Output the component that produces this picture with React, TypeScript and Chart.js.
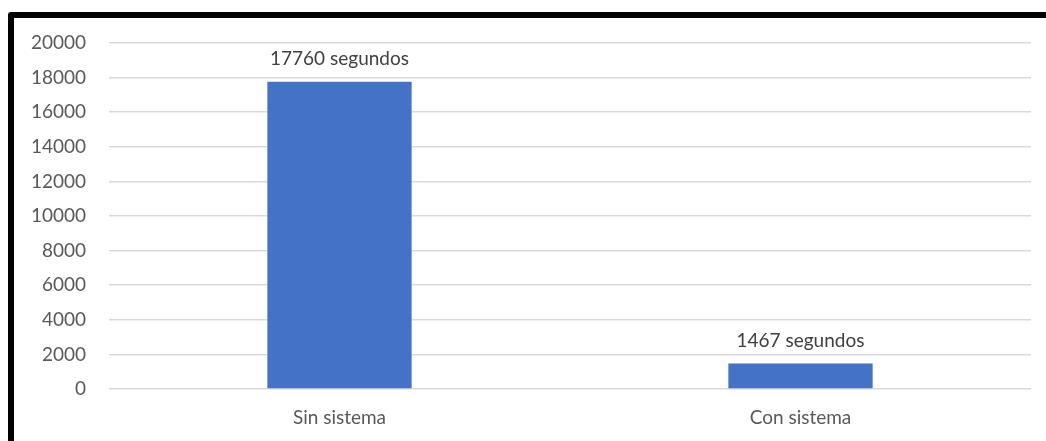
import React, { useEffect, useRef } from "react";
import { Chart, registerables } from "chart.js";

Chart.register(...registerables);

const categories = ["Sin sistema", "Con sistema"];
const values = [17760, 1467];
const valueLabels = ["17760 segundos", "1467 segundos"];
const yMax = 20000;
const yStep = 2000;

const FONT = "Lato, 'Noto Sans', sans-serif";
const TEXT = "#595959";

const dataLabelPlugin = {
  id: "dataLabels",
  afterDatasetsDraw(chart: any) {
    const ctx = chart.ctx;
    const meta = chart.getDatasetMeta(0);
    ctx.save();
    ctx.font = `19px ${FONT}`;
    ctx.fillStyle = "#404040";
    ctx.textAlign = "center";
    ctx.textBaseline = "middle";
    meta.data.forEach((bar: any, i: number) => {
      ctx.fillText(valueLabels[i], bar.x, bar.y - 23);
    });
    ctx.restore();
  },
};

export default function App() {
  const ref = useRef<HTMLCanvasElement>(null);
  useEffect(() => {
    if (!ref.current) return;
    const chart = new Chart(ref.current, {
      type: "bar",
      data: {
        labels: categories,
        datasets: [
          {
            data: values,
            backgroundColor: "#4472c4",
            borderWidth: 0,
            categoryPercentage: 1,
            barPercentage: 0.313,
          },
        ],
      },
      options: {
        animation: false,
        responsive: false,
        maintainAspectRatio: false,
        layout: { padding: { top: 43, right: 15, left: 0, bottom: 0 } },
        plugins: {
          legend: { display: false },
          tooltip: { enabled: false },
        },
        scales: {
          x: {
            grid: { display: false, drawTicks: false },
            border: { display: false },
            ticks: {
              color: TEXT,
              font: { family: FONT, size: 19 },
              padding: 17,
            },
            afterFit(scale: any) {
              scale.height = 52;
            },
          },
          y: {
            min: 0,
            max: yMax,
            grid: { color: "#d9d9d9", lineWidth: 1.5, drawTicks: false },
            border: { display: false },
            ticks: {
              stepSize: yStep,
              color: TEXT,
              font: { family: FONT, size: 19 },
              padding: 23,
              callback: (v: any) => String(v),
            },
            afterFit(scale: any) {
              scale.width = 109;
            },
          },
        },
      },
      plugins: [dataLabelPlugin],
    });
    return () => chart.destroy();
  }, []);

  return (
    <div
      style={{
        position: "fixed",
        left: 0,
        top: 0,
        width: 1046,
        height: 441,
        overflow: "hidden",
        background: "#fff",
      }}
    >
      <div
        style={{
          position: "absolute",
          left: 8,
          top: 12,
          width: 1100,
          height: 500,
          border: "6px solid #000",
          borderRadius: 3,
          boxSizing: "border-box",
        }}
      />
      <canvas
        ref={ref}
        width={1046}
        height={441}
        style={{ position: "absolute", left: 0, top: 0, width: 1046, height: 441 }}
      />
    </div>
  );
}
